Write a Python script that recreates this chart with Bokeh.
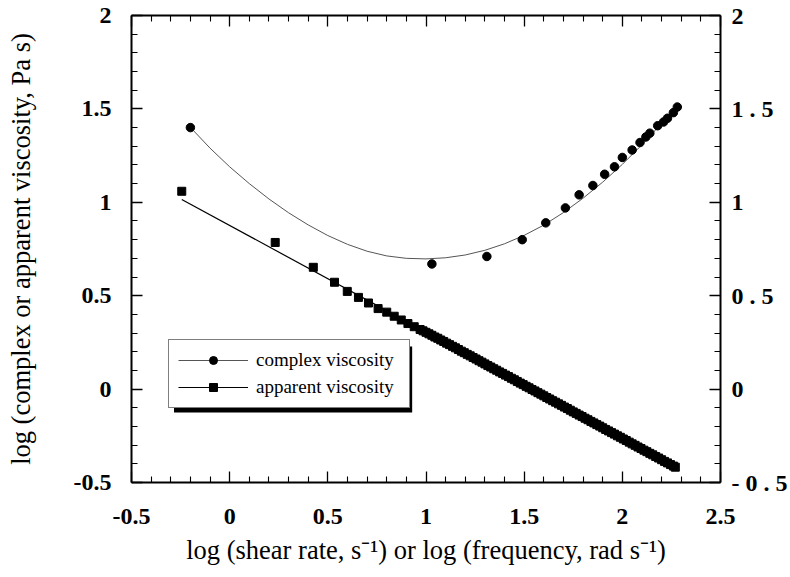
from bokeh.plotting import figure
from bokeh.models import Range1d, LinearAxis, FixedTicker, Legend, LegendItem, BoxAnnotation
from bokeh.embed import file_html
from bokeh.resources import INLINE

# ---- data ----
complex_x = [-0.20, 1.03, 1.31, 1.49, 1.61, 1.71, 1.78, 1.85, 1.91, 1.96, 2.00,
             2.05, 2.09, 2.12, 2.14, 2.18, 2.21, 2.23, 2.26, 2.28]
complex_y = [1.40, 0.67, 0.71, 0.80, 0.89, 0.97, 1.04, 1.09, 1.15, 1.19, 1.24,
             1.28, 1.32, 1.35, 1.37, 1.41, 1.43, 1.45, 1.48, 1.51]

complex_fit_x = [-0.19, -0.1, 0.0, 0.1, 0.2, 0.3, 0.4, 0.5, 0.6, 0.7, 0.8, 0.9, 1.0,
                 1.1, 1.2, 1.3, 1.4, 1.5, 1.6, 1.7, 1.8, 1.9, 2.0, 2.1, 2.2, 2.28]
complex_fit_y = [1.390, 1.290, 1.190, 1.100, 1.018, 0.944, 0.879, 0.822, 0.775, 0.738,
                 0.713, 0.700, 0.697, 0.703, 0.718, 0.743, 0.778, 0.823, 0.878, 0.945,
                 1.022, 1.108, 1.203, 1.308, 1.423, 1.520]

apparent_x = [-0.244, 0.232, 0.426, 0.534, 0.599, 0.656, 0.707, 0.756, 0.800, 0.838,
              0.874, 0.908, 0.940, 0.970,
              0.985, 1.000, 1.015, 1.030, 1.045, 1.060, 1.075, 1.090, 1.105, 1.120,
              1.135, 1.150, 1.165, 1.180, 1.195, 1.210, 1.225, 1.240, 1.255, 1.270,
              1.285, 1.300, 1.315, 1.330, 1.345, 1.360, 1.375, 1.390, 1.405, 1.420,
              1.435, 1.450, 1.465, 1.480, 1.495, 1.510, 1.525, 1.540, 1.555, 1.570,
              1.585, 1.600, 1.615, 1.630, 1.645, 1.660, 1.675, 1.690, 1.705, 1.720,
              1.735, 1.750, 1.765, 1.780, 1.795, 1.810, 1.825, 1.840, 1.855, 1.870,
              1.885, 1.900, 1.915, 1.930, 1.945, 1.960, 1.975, 1.990, 2.005, 2.020,
              2.035, 2.050, 2.065, 2.080, 2.095, 2.110, 2.125, 2.140, 2.155, 2.170,
              2.185, 2.200, 2.215, 2.230, 2.245, 2.260, 2.270]
apparent_y = [1.059, 0.785, 0.652, 0.572, 0.523, 0.491, 0.461, 0.431, 0.412, 0.390,
              0.370, 0.351, 0.334, 0.319,
              0.312, 0.304, 0.296, 0.288, 0.279, 0.272, 0.263, 0.255, 0.246, 0.238,
              0.229, 0.221, 0.212, 0.203, 0.195, 0.186, 0.178, 0.169, 0.161, 0.152,
              0.144, 0.135, 0.126, 0.118, 0.109, 0.101, 0.092, 0.084, 0.075, 0.067,
              0.058, 0.050, 0.041, 0.032, 0.024, 0.015, 0.007, -0.002, -0.010, -0.019,
              -0.027, -0.036, -0.045, -0.053, -0.062, -0.070, -0.079, -0.087, -0.096, -0.104,
              -0.113, -0.122, -0.130, -0.139, -0.147, -0.156, -0.164, -0.173, -0.181, -0.190,
              -0.198, -0.207, -0.216, -0.224, -0.233, -0.241, -0.250, -0.258, -0.267, -0.275,
              -0.284, -0.293, -0.301, -0.310, -0.318, -0.327, -0.335, -0.344, -0.352, -0.361,
              -0.369, -0.378, -0.387, -0.395, -0.404, -0.412, -0.418]

apparent_fit_x = [-0.244, 2.27]
apparent_fit_y = [1.015, -0.418]

x_ticks = [-0.5, 0.0, 0.5, 1.0, 1.5, 2.0, 2.5]
x_tick_labels = ["-0.5", "0", "0.5", "1", "1.5", "2", "2.5"]
y_ticks = [-0.5, 0.0, 0.5, 1.0, 1.5, 2.0]
y_tick_labels_left = ["-0.5", "0", "0.5", "1", "1.5", "2"]
y_tick_labels_right = ["- 0 . 5", "0", "0 . 5", "1", "1 . 5", "2"]

x_label = "log (shear rate, s\u207b\u00b9) or log (frequency, rad s\u207b\u00b9)"
y_label = "log (complex or apparent viscosity, Pa s)"
legend_labels = ["complex viscosity", "apparent viscosity"]

# ---- layout ----
X0, X1, Y0, Y1 = -0.5, 2.5, -0.5, 2.0
FL, FR, FT, FB = 131, 727, 15, 482  # frame in canvas px
W, H = 790, 577

def fx(px):
    return X0 + (px - FL) * (X1 - X0) / (FR - FL)

def fy(py):
    return Y1 - (py - FT) * (Y1 - Y0) / (FB - FT)

p = figure(width=W, height=H, x_range=Range1d(X0, X1), y_range=Range1d(Y0, Y1),
           output_backend="svg", toolbar_location=None,
           x_axis_location=None, y_axis_location=None,
           min_border_left=FL, min_border_right=W - FR,
           min_border_top=FT, min_border_bottom=H - FB)
p.grid.visible = False
p.outline_line_color = None
p.background_fill_color = "white"
p.border_fill_color = "white"

def minor_list(lo, hi):
    out = []
    n = int(round((hi - lo) / 0.1))
    for i in range(n + 1):
        v = round(lo + i * 0.1, 3)
        if abs(v * 2 - round(v * 2)) > 1e-6:
            out.append(v)
    return out

SERIF = "Liberation Serif"

def style_axis(ax, show_labels=True):
    ax.axis_line_width = 2
    ax.axis_line_color = "black"
    ax.major_tick_in = 11
    ax.major_tick_out = 0
    ax.minor_tick_in = 6
    ax.minor_tick_out = 0
    ax.major_tick_line_width = 1.3
    ax.minor_tick_line_width = 1.1
    ax.major_tick_line_color = "black"
    ax.minor_tick_line_color = "black"
    ax.major_label_text_font = SERIF
    ax.major_label_text_font_style = "bold"
    ax.major_label_text_font_size = "24px" if show_labels else "0px"
    ax.major_label_text_color = "black"
    ax.axis_label_text_font = SERIF
    ax.axis_label_text_font_style = "normal"
    ax.axis_label_text_font_size = "26.5px"
    ax.axis_label_text_color = "black"

xt = FixedTicker(ticks=x_ticks, minor_ticks=minor_list(X0, X1))
yt = FixedTicker(ticks=y_ticks, minor_ticks=minor_list(Y0, Y1))

bottom = LinearAxis(ticker=xt, axis_label=x_label)
style_axis(bottom)
bottom.major_label_overrides = {t: l for t, l in zip(x_ticks, x_tick_labels)}
bottom.major_label_standoff = 26
bottom.axis_label_standoff = 8
p.add_layout(bottom, "below")

top = LinearAxis(ticker=xt)
style_axis(top, show_labels=False)
top.major_label_overrides = {t: "" for t in x_ticks}
top.major_label_standoff = 0
p.add_layout(top, "above")

left = LinearAxis(ticker=yt, axis_label=y_label)
style_axis(left)
left.major_label_overrides = {t: l for t, l in zip(y_ticks, y_tick_labels_left)}
left.major_label_standoff = 20
left.axis_label_standoff = 35
p.add_layout(left, "left")

right = LinearAxis(ticker=yt)
style_axis(right)
right.major_label_overrides = {t: l for t, l in zip(y_ticks, y_tick_labels_right)}
right.major_label_standoff = 11
p.add_layout(right, "right")

# ---- glyphs ----
r_cfit = p.line(complex_fit_x, complex_fit_y, line_color="#555555", line_width=1)
r_afit = p.line(apparent_fit_x, apparent_fit_y, line_color="black", line_width=1.2)
r_c = p.scatter(complex_x, complex_y, marker="circle", size=8.5,
                fill_color="black", line_color="black")
r_a = p.scatter(apparent_x, apparent_y, marker="square", size=8,
                fill_color="black", line_color="black")

# legend shadow
shadow = BoxAnnotation(left=fx(174), right=fx(415), top=fy(346), bottom=fy(412),
                       fill_color="black", fill_alpha=1.0, line_color=None)
p.add_layout(shadow)

legend = Legend(items=[LegendItem(label=legend_labels[0], renderers=[r_cfit, r_c]),
                       LegendItem(label=legend_labels[1], renderers=[r_afit, r_a])],
                location=(168 - FL, FB - 408))
legend.label_text_font = SERIF
legend.label_text_font_size = "19px"
legend.label_text_color = "black"
legend.glyph_width = 70
legend.glyph_height = 20
legend.label_height = 20
legend.label_width = 144
legend.label_standoff = 8
legend.spacing = 5
legend.padding = 9
legend.margin = 0
legend.border_line_color = "black"
legend.border_line_width = 1.5
legend.background_fill_color = "white"
legend.background_fill_alpha = 1.0
p.add_layout(legend, "center")

open("out.html", "w").write(file_html(p, INLINE))
